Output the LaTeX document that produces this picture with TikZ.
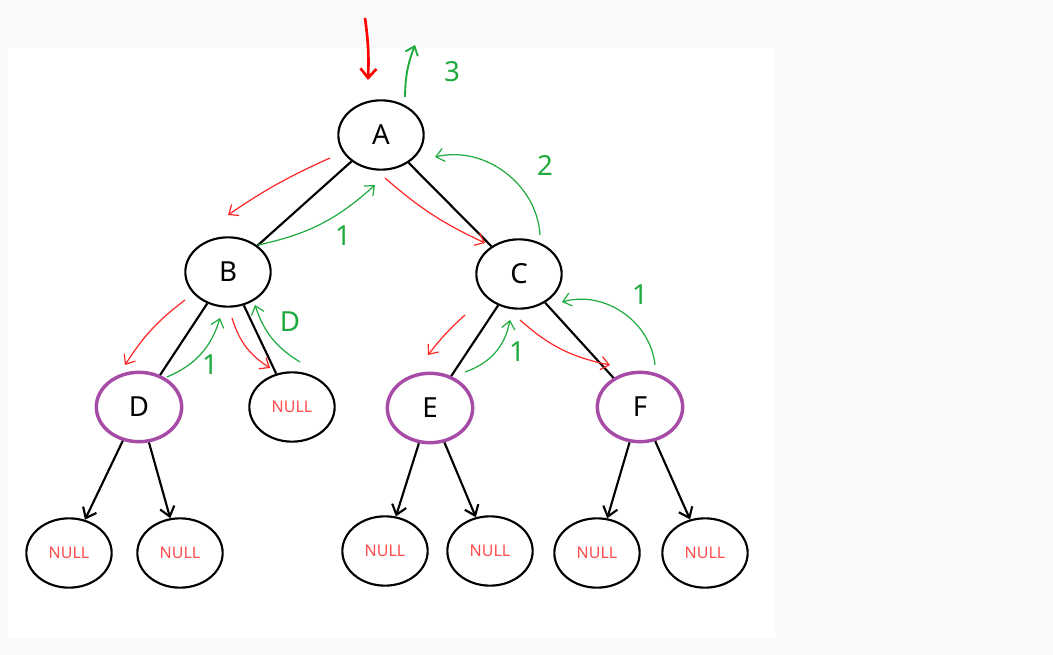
\documentclass[tikz,border=0pt]{standalone}
\usepackage{fontspec}
\setmainfont{Noto Sans}
\usetikzlibrary{arrows.meta,shapes.geometric}
\definecolor{hg}{RGB}{30,170,60}
\begin{document}
\begin{tikzpicture}[x=0.75pt,y=-0.75pt,
 nd/.style={draw=black,line width=1.6pt,ellipse,minimum width=64pt,minimum height=52pt,inner sep=0pt,font=\huge},
 pd/.style={nd,draw=violet!70,line width=2.6pt},
 nl/.style={nd,font=\large,text=red!70},
 ed/.style={line width=1.6pt},
 ea/.style={line width=1.6pt,-{Straight Barb[length=7pt,width=11pt]}},
 rd/.style={red!85,line width=0.9pt,-{Straight Barb[length=6pt,width=10pt]}},
 gr/.style={hg,line width=0.9pt,-{Straight Barb[length=6pt,width=10pt]}},
 gl/.style={text=hg,font=\bfseries\huge}]
\useasboundingbox (0,0) rectangle (1053,655);
\fill[gray!4] (0,0) rectangle (1053,655);
\fill[white] (8,48) rectangle (775,638);
\node[nd] (A) at (381,135) {A};
\node[nd] (B) at (228,272) {B};
\node[nd] (C) at (519,274) {C};
\node[pd] (D) at (139,407) {D};
\node[nl] (N0) at (292,407) {NULL};
\node[pd] (E) at (430,408) {E};
\node[pd] (F) at (640,407) {F};
\node[nl] (N1) at (69,553) {NULL};
\node[nl] (N2) at (180,553) {NULL};
\node[nl] (N3) at (385,551) {NULL};
\node[nl] (N4) at (490,551) {NULL};
\node[nl] (N5) at (597,553) {NULL};
\node[nl] (N6) at (705,553) {NULL};
\draw[ed] (A) -- (B); \draw[ed] (A) -- (C);
\draw[ed] (B) -- (D); \draw[ed] (B) -- (N0);
\draw[ed] (C) -- (E); \draw[ed] (C) -- (F);
\draw[ea] (D) -- (N1); \draw[ea] (D) -- (N2);
\draw[ea] (E) -- (N3); \draw[ea] (E) -- (N4);
\draw[ea] (F) -- (N5); \draw[ea] (F) -- (N6);
% red traversal
\coordinate (r0) at (365,18); \coordinate (r1) at (368,80);
\draw[red,line width=2pt,-{Straight Barb[length=7pt,width=12pt]}] (r0) to[bend left=5] (r1);
\coordinate (ra1) at (330,158); \coordinate (ra2) at (228,215);
\draw[rd] (ra1) to[bend right=5] (ra2);
\coordinate (rc1) at (385,178); \coordinate (rc2) at (485,243);
\draw[rd] (rc1) to[bend right=8] (rc2);
\coordinate (rb1) at (185,300); \coordinate (rb2) at (125,365);
\draw[rd] (rb1) to[bend right=10] (rb2);
\coordinate (rn1) at (232,318); \coordinate (rn2) at (270,368);
\draw[rd] (rn1) to[bend right=20] (rn2);
\coordinate (re1) at (465,315); \coordinate (re2) at (428,355);
\draw[rd] (re1) to[bend right=5] (re2);
\coordinate (rf1) at (520,320); \coordinate (rf2) at (610,365);
\draw[rd] (rf1) to[bend right=15] (rf2);
% green returns
\coordinate (g31) at (405,97); \coordinate (g32) at (415,45);
\draw[gr,line width=1.4pt] (g31) to[bend left=10] (g32);
\node[gl] (l3) at (452,72) {3};
\coordinate (g21) at (540,235); \coordinate (g22) at (435,157);
\draw[gr] (g21) to[bend right=50] (g22);
\node[gl] (l2) at (545,165) {2};
\coordinate (gb1) at (258,245); \coordinate (gb2) at (375,185);
\draw[gr] (gb1) to[bend right=15] (gb2);
\node[gl] (l1a) at (343,236) {1};
\coordinate (gn1) at (300,362); \coordinate (gn2) at (255,305);
\draw[gr] (gn1) to[bend left=20] (gn2);
\node[gl] (l0) at (290,322) {D};
\coordinate (gd1) at (167,377); \coordinate (gd2) at (220,318);
\draw[gr] (gd1) to[bend right=25] (gd2);
\node[gl] (l1b) at (210,365) {1};
\coordinate (ge1) at (465,372); \coordinate (ge2) at (510,320);
\draw[gr] (ge1) to[bend right=30] (ge2);
\node[gl] (l1c) at (517,352) {1};
\coordinate (gf1) at (655,365); \coordinate (gf2) at (562,302);
\draw[gr] (gf1) to[bend right=50] (gf2);
\node[gl] (l1d) at (640,295) {1};
\end{tikzpicture}
\end{document}
